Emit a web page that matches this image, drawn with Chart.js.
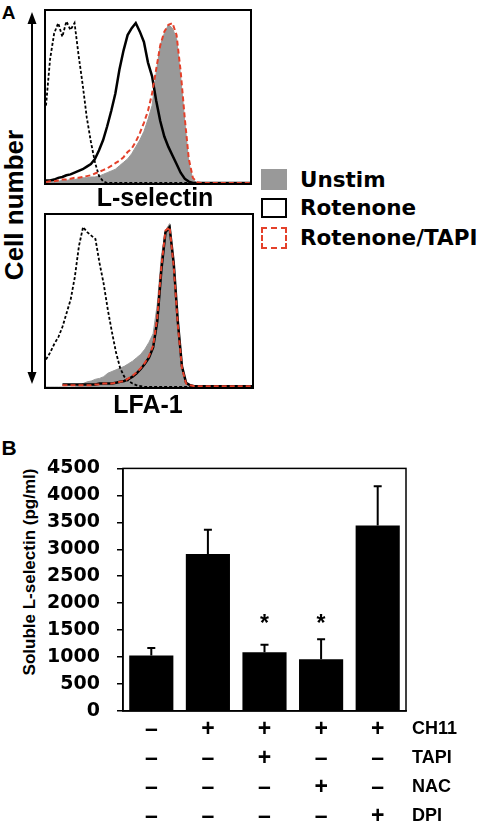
<!DOCTYPE html>
<html>
<head>
<meta charset="utf-8">
<script src="https://cdn.jsdelivr.net/npm/chart.js"></script>
<style>
  body { margin: 0; background: #fff; width: 480px; height: 825px; overflow: hidden; position: relative; font-family: 'Liberation Sans', Arial, sans-serif; }
  .abs { position: absolute; }
  .txt { position: absolute; font-weight: bold; line-height: 1; white-space: nowrap; transform: translate(-50%, -50%); color: #000; }
  .rot { transform: translate(-50%, -50%) rotate(-90deg); }
  .box { position: absolute; box-sizing: border-box; border: 2px solid #000; }
  .leg { position: absolute; left: 300px; font-family: 'DejaVu Sans', sans-serif; font-weight: bold; font-size: 21.5px; line-height: 1; transform: translateY(-50%); }
  .sw { position: absolute; left: 261px; width: 26px; box-sizing: border-box; }
</style>
</head>
<body>
<!-- panel A -->
<div class="txt" style="left:8.5px; top:11.5px; font-size:19px;">A</div>
<svg class="abs" style="left:0; top:0;" width="60" height="400">
  <line x1="32" y1="20" x2="32" y2="376" stroke="#000" stroke-width="2"/>
  <polygon points="32,12 27.5,24 36.5,24" fill="#000"/>
  <polygon points="32,384 27.5,372 36.5,372" fill="#000"/>
</svg>
<div class="txt rot" style="left:14px; top:205px; font-size:26px;">Cell number</div>

<div class="box" style="left:44px; top:9px; width:208px; height:176px;"></div>
<canvas id="histTop" class="abs" style="left:46px; top:11px;" width="204" height="172"></canvas>
<div class="txt" style="left:155px; top:197px; font-size:25px;">L-selectin</div>

<div class="box" style="left:44px; top:213px; width:210px; height:176px;"></div>
<canvas id="histBot" class="abs" style="left:46px; top:215px;" width="206" height="172"></canvas>
<div class="txt" style="left:148px; top:404px; font-size:25px;">LFA-1</div>

<div class="sw" style="top:169px; height:21px; background:#999;"></div>
<div class="leg" style="top:180px;">Unstim</div>
<div class="sw" style="top:198px; height:20px; border:2px solid #000;"></div>
<div class="leg" style="top:208px;">Rotenone</div>
<div class="sw" style="top:227px; height:22px; border:2px dashed #e4402a;"></div>
<div class="leg" style="top:238px;">Rotenone/TAPI</div>

<!-- panel B -->
<div class="txt" style="left:9px; top:447px; font-size:21px;">B</div>
<div class="txt rot" style="left:28.5px; top:571.5px; font-size:17px;">Soluble L-selectin (pg/ml)</div>
<canvas id="barChart" class="abs" style="left:0; top:440px;" width="480" height="385"></canvas>

<script>
// ---- panel A: flow histograms (fluorescence channel bins, % of max) ----
const bins = [0,2,4,6,8,10,12,14,16,18,20,22,24,26,28,30,32,34,36,38,40,42,44,46,48,50,
              52,54,56,58,60,62,64,66,68,70,72,74,76,78,80,82,84,86,88,90,92,94,96,98,100];

// L-selectin
const lselIsotype = [45,72,87,93,85,94,89,93,74,57,38,24,12,4,1,
                     0,0,0,0,0,0,0,0,0,0,0,0,0,0,0,0,0,0,0,0,0,0,0,0,0,0,0,0,0,0,0,0,0,0,0,0];
const lselUnstim = [0.5,0.5,1,1,1.5,1.5,2,2,2.5,3,3,3.5,3.5,4,5,6,7,8,10,12,14,17,21,25,30,37,
                    45,64,80,87,92,90,84,62,36,12,2,0,0,0,0,0,0,0,0,0,0,0,0,0,0];
const lselRot = [1.5,1.5,2,3,3.5,4.5,5,6,7,8,9.5,11,14,19,25,33,42,52,66,77,86,90,93,88,82,70,
                 62,48,36,27,21,16,11,6,2.5,0.8,0,0,0,0,0,0,0,0,0,0,0,0,0,0,0];
const lselRotTapi = [0.5,1,1,1.5,2,2,2.5,3,3,3.5,4,4.5,5.5,6.5,7.5,8.5,10,11.5,13,15,18,20,24,29,35,42,
                     52,66,80,88,92,93,86,65,38,14,3,0.5,0,0,0,0,0,0,0,0,0,0,0,0,0];

// LFA-1
const lfaIsotype = [16,20,25,29,35,43,51,64,82,93,90,88,86,72,60,45,32,20,11,6,3.5,2,1,0.5,
                    0,0,0,0,0,0,0,0,0,0,0,0,0,0,0,0,0,0,0,0,0,0,0,0,0,0,0];
const lfaUnstim = [0,0,0,0,0,0,0,0,1,2,3,3.5,4.5,5,6,8,9,10,11,12,13.5,15,17,19,22,26,
                   31,48,76,91,95,68,36,10,2,0,0,0,0,0,0,0,0,0,0,0,0,0,0,0,0];
const lfaRot = [null,null,null,null,1.5,1.5,1.5,1.5,1.5,1.5,1.5,1.5,1.5,2,2,2,2,2.5,3,3.5,4.5,6,8,10.5,13.5,17,
                23,38,68,90,93,72,38,12,2.5,1,0.5,0.5,0.5,0.5,0.5,0.5,0.5,0.5,0.5,0.5,0.5,0.5,0.5,0.5,0.5];
const lfaRotTapi = [null,null,null,null,1,1,1,1,1,1,1,1,1.5,1.5,2,2,2,2.5,3,3.5,5,6.5,8.5,11,14,18,
                    24,40,70,91,93,70,36,11,2,1,0.5,0.5,0.5,0.5,0.5,0.5,0.5,0.5,0.5,0.5,0.5,0.5,0.5,0.5,0.5];

// ---- panel B: soluble L-selectin ELISA ----
const treatments = ['CH11', 'TAPI', 'NAC', 'DPI'];
const ch11 = [0, 1, 1, 1, 1];
const tapi = [0, 0, 1, 0, 0];
const nac  = [0, 0, 0, 1, 0];
const dpi  = [0, 0, 0, 0, 1];
const solubleLsel = [1030, 2910, 1090, 960, 3440];
const solubleLselErr = [140, 450, 140, 370, 730];
const significant = [false, false, true, true, false];

const RED = '#e4402a';
const GREY = '#999';

function pts(ys) {
  return bins.map((x, i) => ({ x: x, y: ys[i] }));
}

function makeHist(id, isotype, unstim, rot, rotTapi) {
  const ctx = document.getElementById(id).getContext('2d');
  return new Chart(ctx, {
    type: 'line',
    data: {
      datasets: [
        { label: 'Rotenone/TAPI', data: pts(rotTapi), borderColor: RED, borderWidth: 2, borderDash: [5, 3], fill: false },
        { label: 'Rotenone', data: pts(rot), borderColor: '#000', borderWidth: 2.5, fill: false },
        { label: 'isotype', data: pts(isotype), borderColor: '#000', borderWidth: 1.8, borderDash: [3, 2], fill: false },
        { label: 'Unstim', data: pts(unstim), borderColor: GREY, borderWidth: 1, backgroundColor: GREY, fill: 'origin' }
      ]
    },
    options: {
      responsive: false,
      animation: false,
      elements: { point: { radius: 0 }, line: { tension: 0 } },
      layout: { padding: 0 },
      scales: {
        x: { type: 'linear', min: 0, max: 100, display: false },
        y: { min: 0, max: 100, display: false }
      },
      plugins: { legend: { display: false }, tooltip: { enabled: false } }
    }
  });
}

makeHist('histTop', lselIsotype, lselUnstim, lselRot, lselRotTapi);
makeHist('histBot', lfaIsotype, lfaUnstim, lfaRot, lfaRotTapi);

// bar chart
const signs = ch11.map((v, i) => [ch11[i], tapi[i], nac[i], dpi[i]].map(s => s ? '+' : '\u2013'));
const rowTop = 4, rowH = 29;

const barExtras = {
  id: 'barExtras',
  afterDatasetsDraw(chart) {
    const { ctx, chartArea: a, scales: { y } } = chart;
    const meta = chart.getDatasetMeta(0);
    ctx.save();
    ctx.strokeStyle = '#000';
    ctx.fillStyle = '#000';
    ctx.lineWidth = 2;
    meta.data.forEach((bar, i) => {
      const top = y.getPixelForValue(solubleLsel[i] + solubleLselErr[i]);
      ctx.beginPath();
      ctx.moveTo(bar.x, bar.y);
      ctx.lineTo(bar.x, top);
      ctx.moveTo(bar.x - 4, top);
      ctx.lineTo(bar.x + 4, top);
      ctx.stroke();
      if (significant[i]) {
        ctx.font = 'bold 23px "Liberation Sans"';
        ctx.textAlign = 'center';
        ctx.textBaseline = 'alphabetic';
        ctx.fillText('*', bar.x, y.getPixelForValue(1600) + 6);
      }
    });
    ctx.lineWidth = 1.5;
    ctx.strokeRect(a.left, a.top, a.right - a.left, a.bottom - a.top);
    ctx.font = 'bold 18px "Liberation Sans"';
    ctx.textAlign = 'left';
    ctx.textBaseline = 'middle';
    treatments.forEach((t, r) => {
      ctx.fillText(t, 412, a.bottom + rowTop + rowH / 2 + r * rowH);
    });
    ctx.restore();
  }
};

new Chart(document.getElementById('barChart').getContext('2d'), {
  type: 'bar',
  data: {
    labels: signs,
    datasets: [{
      label: 'Soluble L-selectin (pg/ml)',
      data: solubleLsel,
      backgroundColor: '#000',
      borderWidth: 0,
      barPercentage: 0.78,
      categoryPercentage: 1
    }]
  },
  options: {
    responsive: false,
    animation: false,
    layout: { padding: { top: 14, right: 74, left: 0, bottom: 0 } },
    scales: {
      x: {
        grid: { display: false, drawTicks: false, tickLength: 0 },
        border: { display: true, color: '#000', width: 1.5 },
        ticks: {
          color: '#000', autoSkip: false, maxRotation: 0, padding: rowTop,
          font: { family: 'Liberation Sans', weight: 'bold', size: 23, lineHeight: rowH / 23 }
        },
        afterFit(scale) { scale.height = 114; }
      },
      y: {
        min: 0, max: 4500,
        grid: { drawOnChartArea: false, color: '#000', lineWidth: 1.5, tickLength: 6 },
        border: { display: true, color: '#000', width: 1.5 },
        ticks: {
          stepSize: 500, color: '#000', padding: 17,
          callback: v => String(v),
          font: { family: 'DejaVu Sans', weight: 'bold', size: 19 }
        },
        afterFit(scale) { scale.width = 123; }
      }
    },
    plugins: { legend: { display: false }, tooltip: { enabled: false } }
  },
  plugins: [barExtras]
});
</script>
</body>
</html>
